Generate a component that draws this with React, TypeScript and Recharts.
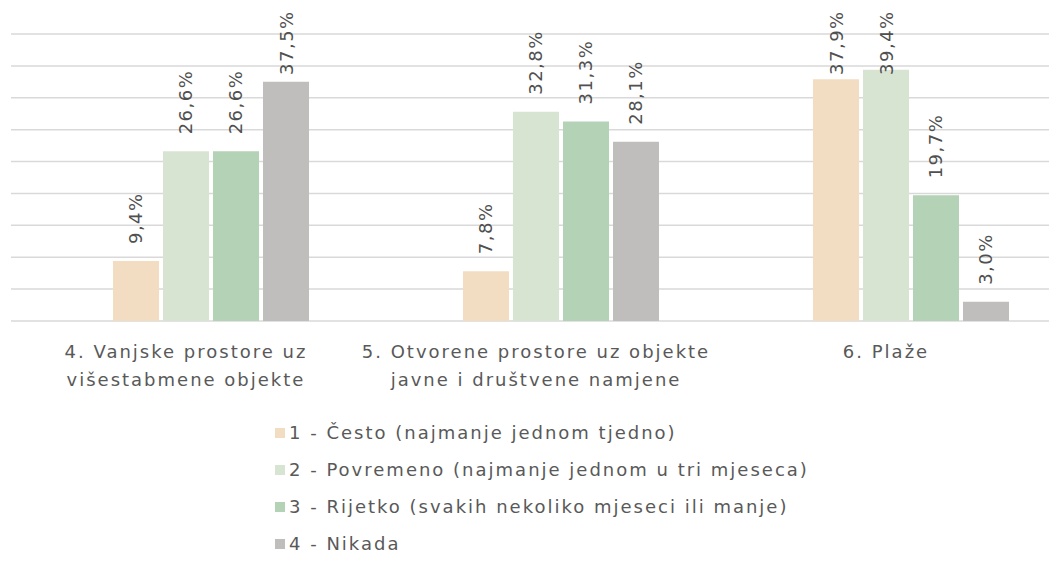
import React from "react";
import { Bar, BarChart, CartesianGrid, LabelList, Legend, XAxis, YAxis } from "recharts";

const categories = [
  "4. Vanjske prostore uz\nvišestabmene objekte",
  "5. Otvorene prostore uz objekte\njavne i društvene namjene",
  "6. Plaže",
];
const seriesNames = [
  "1 - Često (najmanje jednom tjedno)",
  "2 - Povremeno (najmanje jednom u tri mjeseca)",
  "3 - Rijetko (svakih nekoliko mjeseci ili manje)",
  "4 - Nikada",
];
const cesto = [9.4, 7.8, 37.9];
const povremeno = [26.6, 32.8, 39.4];
const rijetko = [26.6, 31.3, 19.7];
const nikada = [37.5, 28.1, 3.0];
const yTicks = [0, 5, 10, 15, 20, 25, 30, 35, 40, 45];

const colors = ["#f2dcc2", "#d8e4d2", "#b4d2b6", "#bfbebc"];
const font = "'DejaVu Sans', sans-serif";
const textColor = "#595959";
const spacing = 2;

const data = categories.map((name, i) => ({
  name,
  s1: cesto[i],
  s2: povremeno[i],
  s3: rijetko[i],
  s4: nikada[i],
}));

function CategoryTick({ x, y, payload }: any) {
  const lines = String(payload.value).split("\n");
  return (
    <text x={x} y={y} textAnchor="middle" fill={textColor} fontSize={18} fontFamily={font} letterSpacing={spacing}>
      {lines.map((l, i) => (
        <tspan key={i} x={x} dy={i === 0 ? 37 : 28}>
          {l}
        </tspan>
      ))}
    </text>
  );
}

// rotated value label, kept below the top edge like the original
function ValueLabel({ x, y, width, value }: any) {
  if (value == null) return null;
  const cx = x + width / 2;
  const cy = Math.max(y - 17, 75);
  return (
    <text
      x={cx}
      y={cy}
      transform={`rotate(-90 ${cx} ${cy})`}
      textAnchor="start"
      dominantBaseline="central"
      fill="#505050"
      fontSize={18}
      fontFamily={font}
      letterSpacing={1.5}
    >
      {value.toFixed(1).replace(".", ",")}%
    </text>
  );
}

function LegendList({ payload }: any) {
  const items = (payload || []).filter((p: any) => p.type !== "none");
  return (
    <div style={{ fontFamily: font, fontSize: 18, color: textColor, letterSpacing: spacing }}>
      {items.map((p: any) => (
        <div key={p.value} style={{ display: "flex", alignItems: "center", height: 37 }}>
          <span style={{ width: 10, height: 10, background: p.color, marginRight: 4, display: "inline-block" }} />
          <span>{p.value}</span>
        </div>
      ))}
    </div>
  );
}

export default function App() {
  return (
    <div style={{ position: "absolute", left: 0, top: 0, width: 1049, height: 577, overflow: "hidden", background: "#fff" }}>
      <BarChart
        width={1061}
        height={577}
        data={data}
        margin={{ top: 34, right: 0, left: 11, bottom: 176 }}
        barCategoryGap={52}
        barGap={4}
      >
        <CartesianGrid vertical={false} stroke="#d9d9d9" strokeWidth={1.5} />
        <XAxis
          dataKey="name"
          axisLine={false}
          tickLine={false}
          tickSize={0}
          tickMargin={0}
          height={80}
          interval={0}
          tick={<CategoryTick />}
        />
        <YAxis hide domain={[0, 45]} ticks={yTicks} />
        <Legend
          layout="vertical"
          align="center"
          verticalAlign="middle"
          content={<LegendList />}
          wrapperStyle={{ top: 414, left: 275, width: 700, height: 150 }}
        />
        <Bar dataKey="blank" legendType="none" isAnimationActive={false} />
        <Bar dataKey="s1" name={seriesNames[0]} fill={colors[0]} isAnimationActive={false}>
          <LabelList dataKey="s1" content={<ValueLabel />} />
        </Bar>
        <Bar dataKey="s2" name={seriesNames[1]} fill={colors[1]} isAnimationActive={false}>
          <LabelList dataKey="s2" content={<ValueLabel />} />
        </Bar>
        <Bar dataKey="s3" name={seriesNames[2]} fill={colors[2]} isAnimationActive={false}>
          <LabelList dataKey="s3" content={<ValueLabel />} />
        </Bar>
        <Bar dataKey="s4" name={seriesNames[3]} fill={colors[3]} isAnimationActive={false}>
          <LabelList dataKey="s4" content={<ValueLabel />} />
        </Bar>
      </BarChart>
    </div>
  );
}
